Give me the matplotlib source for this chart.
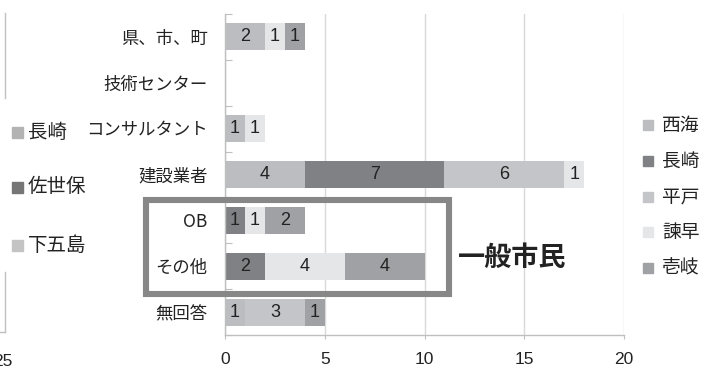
import matplotlib
matplotlib.use("Agg")
import matplotlib.pyplot as plt
from matplotlib import font_manager
from matplotlib.patches import Rectangle
from matplotlib.lines import Line2D
import numpy as np

plt.rcParams['font.family'] = ['Noto Sans CJK JP', 'DejaVu Sans']

categories = ["県、市、町", "技術センター", "コンサルタント", "建設業者", "OB", "その他", "無回答"]
series_names = ["西海", "長崎", "平戸", "諫早", "壱岐"]
saikai = [2, 0, 1, 4, 0, 0, 1]
nagasaki = [0, 0, 0, 7, 1, 2, 0]
hirado = [0, 0, 0, 6, 0, 0, 3]
isahaya = [1, 0, 1, 1, 1, 4, 0]
iki = [1, 0, 0, 0, 2, 4, 1]
series_values = [saikai, nagasaki, hirado, isahaya, iki]
colors = ["#bcbdc1", "#808184", "#c4c5c8", "#e5e6e8", "#a0a1a4"]

left_legend_names = ["長崎", "佐世保", "下五島"]
left_legend_colors = ["#b3b3b3", "#767676", "#c4c4c4"]
x_ticks = [0, 5, 10, 15, 20]
box_label = "一般市民"

names = {f.name for f in font_manager.fontManager.ttflist}
num_font = ['Liberation Sans Narrow', 'DejaVu Sans'] if 'Liberation Sans Narrow' in names else ['Liberation Sans', 'DejaVu Sans']

W, H = 703, 372
fig = plt.figure(figsize=(W / 100, H / 100), dpi=100)

def fx(px):
    return px / W

def fy(py):
    return 1 - py / H

ax = fig.add_axes([fx(225), fy(335), fx(624) - fx(225), fy(14) - fy(335)])

y = np.arange(len(categories))
left = np.zeros(len(categories))
for name, vals, col in zip(series_names, series_values, colors):
    vals = np.array(vals, dtype=float)
    cont = ax.barh(y, vals, left=left, height=0.59, color=col, label=name, zorder=2)
    labels = [str(int(v)) if v > 0 else "" for v in vals]
    ax.bar_label(cont, labels=labels, label_type='center', fontsize=13,
                 color="#222222", family=num_font)
    left += vals

ax.set_xlim(0, 20)
ax.set_ylim(len(categories) - 0.5, -0.5)
ax.set_xticks(x_ticks)
ax.set_xticklabels([str(t) for t in x_ticks], family=num_font, fontsize=12.5, color="#222222")
ax.tick_params(axis='x', length=3, color="#bfbfbf", pad=9.5)
ax.xaxis.grid(True, color="#d9d9d9", linewidth=1, zorder=0)
ax.set_axisbelow(True)

ax.set_yticks(np.arange(-0.5, len(categories)), minor=False)
ax.set_yticklabels([])
ax.set_yticks(y, minor=True)
ax.set_yticklabels(categories, minor=True, fontsize=12.5, color="#222222")
ax.tick_params(axis='y', which='major', direction='in', length=5, color="#bfbfbf")
ax.tick_params(axis='y', which='minor', length=0, pad=12.5)

for s in ['top', 'right']:
    ax.spines[s].set_visible(False)
for s in ['left', 'bottom']:
    ax.spines[s].set_color("#bfbfbf")
    ax.spines[s].set_linewidth(1)

# highlight box
bx0, bx1, by0, by1 = 146, 449, 200, 294
fig.add_artist(Rectangle((fx(bx0), fy(by1)), fx(bx1) - fx(bx0), fy(by0) - fy(by1),
                         transform=fig.transFigure, fill=False, edgecolor="#878787",
                         linewidth=4.4, zorder=5))
fig.text(fx(458), fy(258), box_label, fontsize=19.5, fontweight='bold', color="#222222",
         ha='left', va='center')

# right legend
for i, (name, col) in enumerate(zip(series_names, colors)):
    yc = 125 + i * 35.8
    fig.add_artist(Rectangle((fx(643), fy(yc + 5)), fx(10), 10 / H,
                             transform=fig.transFigure, color=col))
    fig.text(fx(662), fy(yc), name, fontsize=13.5, color="#222222", ha='left', va='center')

# left partial chart remnants
for i, (name, col) in enumerate(zip(left_legend_names, left_legend_colors)):
    yc = [132, 187, 245][i]
    fig.add_artist(Rectangle((fx(12), fy(yc + 5.5)), fx(11), 11 / H,
                             transform=fig.transFigure, color=col))
    fig.text(fx(28), fy(yc), name, fontsize=14, color="#222222", ha='left', va='center')

lc = "#c0c0c0"
fig.add_artist(Line2D([fx(5), fx(5)], [fy(13), fy(98)], transform=fig.transFigure, color=lc, lw=1))
fig.add_artist(Line2D([fx(5), fx(5)], [fy(272), fy(332)], transform=fig.transFigure, color=lc, lw=1))
fig.add_artist(Line2D([0, fx(5)], [fy(332), fy(332)], transform=fig.transFigure, color=lc, lw=1))
fig.text(fx(13), fy(362), "25", fontsize=12.5, family=num_font, color="#222222",
         ha='right', va='center')

fig.savefig("out.png", dpi=100)
